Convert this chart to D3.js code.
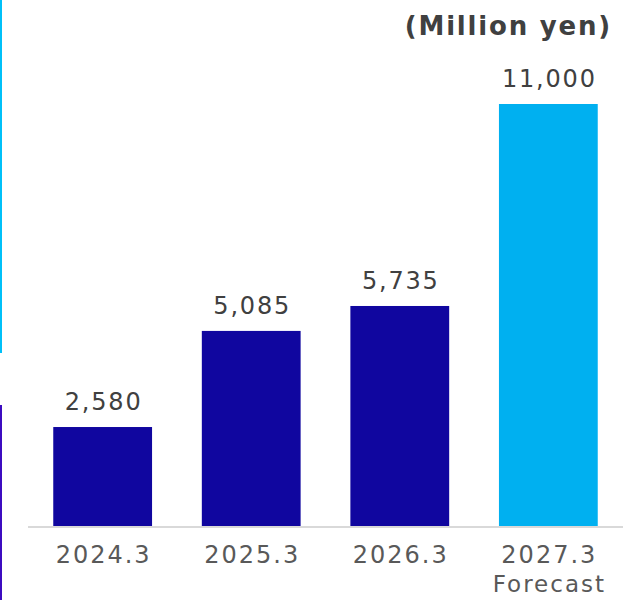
<!DOCTYPE html>
<html>
<head>
<meta charset="utf-8">
<script src="https://cdn.jsdelivr.net/npm/d3@7"></script>
<style>
  html, body { margin: 0; padding: 0; background: #ffffff; }
  svg { display: block; }
</style>
</head>
<body>
<svg id="chart" width="633" height="600"></svg>
<script>
// Net sales by fiscal year (million yen)
const categories = ["2024.3", "2025.3", "2026.3", "2027.3"];
const subLabels = ["", "", "", "Forecast"];
const values = [2580, 5085, 5735, 11000];
const isForecast = [false, false, false, true];
const unitLabel = "(Million yen)";

const svg = d3.select("#chart");
const W = 633, H = 600;
const font = "'DejaVu Sans', Verdana, sans-serif";

// decorative accent strips on the left edge
svg.append("rect").attr("x", 0).attr("y", 0).attr("width", 2).attr("height", 353).attr("fill", "#00c0f8");
svg.append("rect").attr("x", 0).attr("y", 405).attr("width", 2).attr("height", H - 405).attr("fill", "#3c0cc0");

const baseline = 526;
const x = d3.scaleBand().domain(categories).range([28, 623]).paddingInner(0.335).paddingOuter(0.17);
const y = d3.scaleLinear().domain([0, 11000]).range([baseline, 104]);

svg.selectAll("rect.bar")
  .data(values)
  .join("rect")
  .attr("class", "bar")
  .attr("x", (d, i) => x(categories[i]))
  .attr("y", d => y(d))
  .attr("width", x.bandwidth())
  .attr("height", d => baseline - y(d))
  .attr("fill", (d, i) => isForecast[i] ? "#00b0f0" : "#10069f");

// baseline
svg.append("line")
  .attr("x1", 28).attr("x2", 623)
  .attr("y1", baseline + 1).attr("y2", baseline + 1)
  .attr("stroke", "#d9d9d9").attr("stroke-width", 2);

const cx = i => x(categories[i]) + x.bandwidth() / 2;

// value labels
svg.selectAll("text.val")
  .data(values)
  .join("text")
  .attr("class", "val")
  .attr("x", (d, i) => cx(i) + 1)
  .attr("y", d => y(d) - 17)
  .attr("text-anchor", "middle")
  .attr("font-family", font)
  .attr("font-size", 24)
  .attr("letter-spacing", 1.8)
  .attr("fill", "#404040")
  .text(d => d3.format(",")(d));

// category labels
svg.selectAll("text.cat")
  .data(categories)
  .join("text")
  .attr("class", "cat")
  .attr("x", (d, i) => cx(i) + 1)
  .attr("y", 563)
  .attr("text-anchor", "middle")
  .attr("font-family", font)
  .attr("font-size", 24)
  .attr("letter-spacing", 2)
  .attr("fill", "#595959")
  .text(d => d);

svg.selectAll("text.sub")
  .data(subLabels)
  .join("text")
  .attr("class", "sub")
  .attr("x", (d, i) => cx(i) + 1)
  .attr("y", 592)
  .attr("text-anchor", "middle")
  .attr("font-family", font)
  .attr("font-size", 23)
  .attr("letter-spacing", 2)
  .attr("fill", "#595959")
  .text(d => d);

// unit label
svg.append("text")
  .attr("x", 612).attr("y", 35)
  .attr("text-anchor", "end")
  .attr("font-family", font)
  .attr("font-size", 26)
  .attr("font-weight", "bold")
  .attr("letter-spacing", 1.8)
  .attr("fill", "#404040")
  .text(unitLabel);
</script>
</body>
</html>
